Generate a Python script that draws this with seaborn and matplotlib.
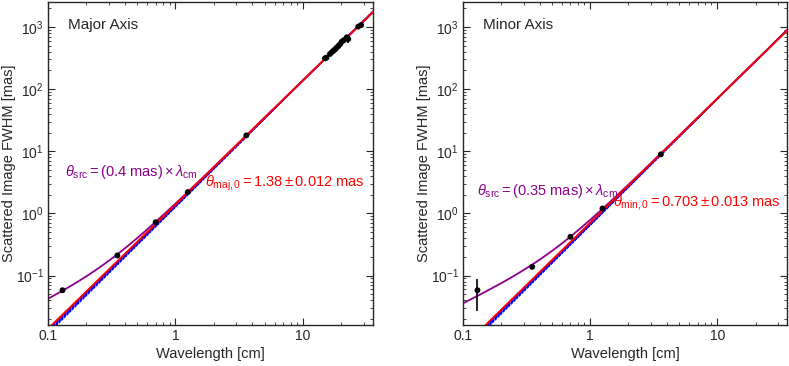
import numpy as np
import pandas as pd
import matplotlib
matplotlib.use("Agg")
import matplotlib.pyplot as plt
import matplotlib.ticker as mticker
import seaborn as sns

sns.set_style("ticks")
plt.rcParams['font.family'] = ['Liberation Sans', 'DejaVu Sans']
plt.rcParams['mathtext.fontset'] = 'custom'
plt.rcParams['mathtext.rm'] = 'Liberation Sans'
plt.rcParams['mathtext.it'] = 'Liberation Sans:italic'

maj_lam = [0.13, 0.35, 0.70, 1.25, 3.6, 14.9, 15.3, 16.3, 16.9, 17.4, 17.9, 18.4,
           19.0, 19.6, 20.2, 21.0, 22.1, 22.7, 27.2, 28.6]
maj_fwhm = [0.058, 0.21, 0.72, 2.2, 18.0, 313, 320, 367, 395, 415, 437, 465,
            494, 530, 580, 615, 682, 640, 1012, 1072]
maj_err = [0.006, 0.01, 0.03, 0.05, 0.4, 8, 8, 8, 8, 9, 9, 9,
           10, 10, 12, 12, 15, 95, 20, 20]

min_lam = [0.13, 0.35, 0.70, 1.25, 3.6]
min_fwhm = [0.058, 0.138, 0.42, 1.2, 8.9]
min_err = [0.031, 0.008, 0.02, 0.04, 0.2]

# fit results
theta0 = {"maj": 1.38, "min": 0.703}
theta_src = {"maj": 0.4, "min": 0.35}
alpha_range = [2.0, 2.005, 2.01, 2.015, 2.02, 2.025, 2.03, 2.035]
pivot = 15.0

lam = np.logspace(-1, np.log10(36), 300)

fig = plt.figure(figsize=(7.89, 3.66), dpi=100)
ax1 = fig.add_axes([0.0608, 0.112, 0.412, 0.882])
ax2 = fig.add_axes([0.5868, 0.112, 0.411, 0.882])

panels = [
    (ax1, "maj", maj_lam, maj_fwhm, maj_err, "Major Axis",
     r"$\theta_{\rm src} = (0.4\ {\rm mas})\times\lambda_{\rm cm}$", (0.052, 0.474),
     r"$\theta_{\rm maj,0} = 1.38 \pm 0.012\ {\rm mas}$", (0.975, 0.44)),
    (ax2, "min", min_lam, min_fwhm, min_err, "Minor Axis",
     r"$\theta_{\rm src} = (0.35\ {\rm mas})\times\lambda_{\rm cm}$", (0.043, 0.415),
     r"$\theta_{\rm min,0} = 0.703 \pm 0.013\ {\rm mas}$", (0.98, 0.378)),
]

for ax, key, xs, ys, es, title, src_txt, src_pos, fit_txt, fit_pos in panels:
    t0 = theta0[key]
    ts = theta_src[key]
    # band of power-law fits
    for a in alpha_range:
        band = pd.DataFrame({"lam": lam, "fwhm": t0 * pivot ** 2 * (lam / pivot) ** a})
        sns.lineplot(data=band, x="lam", y="fwhm", ax=ax, color="blue",
                     lw=0.9, linestyle=(0, (2, 1)), zorder=1)
    model = pd.DataFrame({
        "lam": lam,
        "red": t0 * lam ** 2,
        "purple": np.sqrt((t0 * lam ** 2) ** 2 + (ts * lam) ** 2),
    })
    sns.lineplot(data=model, x="lam", y="purple", ax=ax, color="#8B008B", lw=1.3, zorder=2)
    sns.lineplot(data=model, x="lam", y="red", ax=ax, color="red", lw=1.4, zorder=3)
    ax.errorbar(xs, ys, yerr=es, fmt="none", ecolor="black", elinewidth=1.2, zorder=4)
    sns.scatterplot(x=xs, y=ys, ax=ax, color="black", s=18, edgecolor="none", zorder=5)

    ax.set_xscale("log")
    ax.set_yscale("log")
    ax.set_xlim(0.1, 35.5)
    ax.set_ylim(0.016, 2500)
    ax.xaxis.set_major_formatter(mticker.FuncFormatter(lambda v, p: f"{v:g}"))
    ax.tick_params(which="both", direction="in", top=True, right=True, labelsize=10)
    ax.tick_params(which="major", length=5, width=0.8, pad=3)
    ax.tick_params(which="minor", length=2.5, width=0.6)
    for sp in ax.spines.values():
        sp.set_linewidth(1.0)
    ax.set_xlabel("Wavelength [cm]", fontsize=10.5, labelpad=3)
    ax.set_ylabel("Scattered Image FWHM [mas]", fontsize=10.5, labelpad=0)

    ax.text(0.062, 0.93, title, transform=ax.transAxes, fontsize=11, va="center")
    ax.text(src_pos[0], src_pos[1], src_txt, transform=ax.transAxes, fontsize=10.5,
            color="#8B008B", va="center", ha="left")
    ax.text(fit_pos[0], fit_pos[1], fit_txt, transform=ax.transAxes, fontsize=10.5,
            color="red", va="center", ha="right")

fig.savefig("out.png", dpi=100)
